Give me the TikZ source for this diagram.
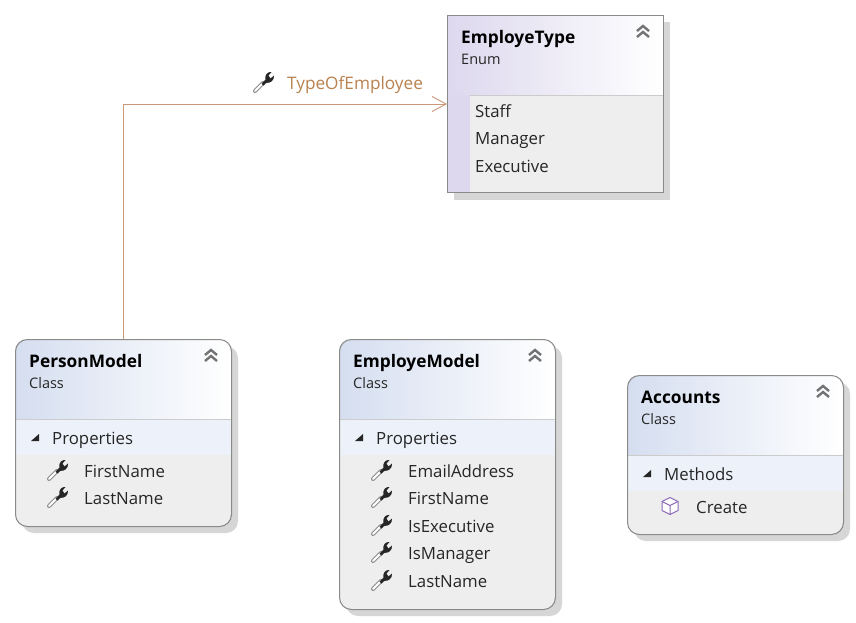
\documentclass[tikz,border=0pt]{standalone}
\usepackage{fontspec}
\setmainfont{Open Sans}
\usetikzlibrary{arrows.meta}
\definecolor{hdrblue}{HTML}{D5DEF0}
\definecolor{hdrviolet}{HTML}{DDD8EE}
\definecolor{bandblue}{HTML}{EDF1FA}
\definecolor{bodygray}{HTML}{EEEEEE}
\definecolor{edgegray}{HTML}{8A8A86}
\definecolor{shadowgray}{HTML}{D6D6D6}
\definecolor{linkbrown}{HTML}{C9977A}
\definecolor{labelbrown}{HTML}{B9824F}
\definecolor{cubeviolet}{HTML}{8A68B8}
\tikzset{
  x=1pt,y=-1pt,
  classbox/.style={draw=edgegray,line width=1pt,rounded corners=12pt,inner sep=0pt,anchor=north west},
  enumbox/.style={draw=edgegray,line width=1pt,inner sep=0pt,anchor=north west},
  title/.style={anchor=base west,inner sep=0pt,yshift=-1pt,font=\fontsize{17.3}{20}\selectfont\bfseries,text=black},
  kind/.style={anchor=base west,inner sep=0pt,yshift=-1pt,font=\fontsize{14.5}{17}\selectfont,text=black!85},
  member/.style={anchor=base west,inner sep=0pt,yshift=-1pt,font=\fontsize{16.8}{20}\selectfont,text=black!85},
  linklabel/.style={anchor=base west,inner sep=0pt,yshift=-1pt,font=\fontsize{17.2}{20}\selectfont,text=labelbrown},
  link/.style={draw=linkbrown,line width=0.9pt,-{Straight Barb[length=14pt,width=15pt,line width=0.9pt]}},
  pics/wrench/.style={code={
    \draw[line width=4pt,black!45,line cap=round] (-9,9) -- (-1,1);
    \draw[line width=2pt,white,line cap=round] (-9,9) -- (-1,1);
    \fill[black!85] (-2.5,1.5) -- (1.5,-2.5) .. controls (0.5,-7) and (3.5,-10.5) .. (7.5,-10)
       -- (4.5,-6.5) -- (6.5,-3.5) -- (10,-6.5) .. controls (10.5,-1.5) and (6,1.5) .. (2.5,0.8) -- (-0.5,3.5) -- cycle;
  }},
  pics/chevrons/.style={code={
    \draw[line width=2.4pt,black!55] (-6,-1) -- (0,-6) -- (6,-1);
    \draw[line width=2.4pt,black!55] (-6,5) -- (0,0) -- (6,5);
  }},
  pics/expander/.style={code={
    \fill[black!85] (4,-4) -- (4,3) -- (-4,3) -- cycle;
  }},
  pics/cube/.style={code={
    \draw[cubeviolet,line width=1pt,line join=round,fill=white] (0,-8.5) -- (8,-4.5) -- (8,4.5) -- (0,8.5) -- (-8,4.5) -- (-8,-4.5) -- cycle;
    \draw[cubeviolet,line width=1pt,line join=round] (-8,-4.5) -- (0,-0.5) -- (8,-4.5) (0,-0.5) -- (0,8.5);
  }},
}
% #1 name, #2 x, #3 y, #4 width, #5 height, #6 header height, #7 band height
\newcommand{\classshape}[7]{%
  \fill[shadowgray,rounded corners=12pt] (#2+7,#3+7) rectangle ++(#4,#5);
  \begin{scope}
    \clip[rounded corners=12pt] (#2,#3) rectangle ++(#4,#5);
    \fill[bodygray] (#2,#3) rectangle ++(#4,#5);
    \shade[left color=hdrblue,right color=white,shading angle=90] (#2,#3) rectangle ++(#4,#6);
    \fill[bandblue] (#2,#3+#6) rectangle ++(#4,#7);
    \draw[black!20,line width=1pt] (#2,#3+#6) -- ++(#4,0);
  \end{scope}
  \node[classbox,minimum width=#4pt,minimum height=#5pt] (#1) at (#2,#3) {};
  \pic at (#2+196,#3+17) {chevrons};
}
\begin{document}
\begin{tikzpicture}
\useasboundingbox (0,0) rectangle (856,622);
\fill[white] (0,0) rectangle (856,622);

% EmployeType
\fill[shadowgray] (454,22) rectangle (670,200);
\shade[left color=hdrviolet,right color=white,shading angle=90] (447,15) rectangle (663,95);
\fill[hdrviolet] (447,95) rectangle (470,192);
\fill[bodygray] (470,95) rectangle (663,192);
\draw[black!20,line width=1pt] (470,95) -- (663,95);
\node[enumbox,minimum width=216pt,minimum height=177pt] (etype) at (447,15) {};
\pic at (643,32) {chevrons};
\node[title] (etypeT) at (461,42) {EmployeType};
\node[kind] (etypeK) at (461,63) {Enum};
\node[member] (m1) at (475,116) {Staff};
\node[member] (m2) at (475,143) {Manager};
\node[member] (m3) at (475,171) {Executive};

% PersonModel
\classshape{person}{15}{339}{216}{187}{80}{36}
\node[title] (personT) at (29,366) {PersonModel};
\node[kind] (personK) at (29,387) {Class};
\pic at (35,438) {expander};
\node[member] (pp) at (52,443) {Properties};
\pic at (58,470) {wrench};
\node[member] (p1) at (84,476) {FirstName};
\pic at (58,497) {wrench};
\node[member] (p2) at (84,503) {LastName};

% EmployeModel
\classshape{employe}{339}{339}{216}{270}{80}{36}
\node[title] (empT) at (353,366) {EmployeModel};
\node[kind] (empK) at (353,387) {Class};
\pic at (359,438) {expander};
\node[member] (ep) at (376,443) {Properties};
\pic at (382,470) {wrench};
\node[member] (e1) at (408,476) {EmailAddress};
\pic at (382,497) {wrench};
\node[member] (e2) at (408,503) {FirstName};
\pic at (382,525) {wrench};
\node[member] (e3) at (408,531) {IsExecutive};
\pic at (382,552) {wrench};
\node[member] (e4) at (408,558) {IsManager};
\pic at (382,580) {wrench};
\node[member] (e5) at (408,586) {LastName};

% Accounts
\classshape{accounts}{627}{375}{216}{159}{80}{36}
\node[title] (accT) at (641,402) {Accounts};
\node[kind] (accK) at (641,423) {Class};
\pic at (647,474) {expander};
\node[member] (am) at (664,479) {Methods};
\pic at (670,506) {cube};
\node[member] (a1) at (696,512) {Create};

% connector
\draw[link] (person.north) |- (etype.west);
\pic at (264,82) {wrench};
\node[linklabel] (lbl) at (287,88) {TypeOfEmployee};
\end{tikzpicture}
\end{document}
